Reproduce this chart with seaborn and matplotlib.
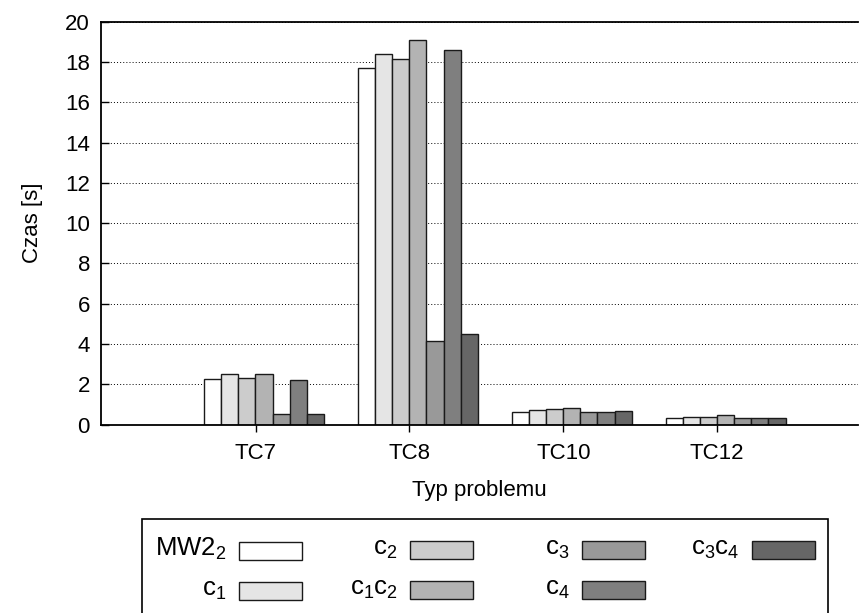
import matplotlib
matplotlib.use("Agg")
import matplotlib.pyplot as plt
import seaborn as sns
import pandas as pd
from matplotlib.patches import Rectangle
from matplotlib.legend_handler import HandlerPatch

# ---- data ----
problems = ["TC7", "TC8", "TC10", "TC12"]
series = ["MW2$_2$", "c$_1$", "c$_2$", "c$_1$c$_2$", "c$_3$", "c$_4$", "c$_3$c$_4$"]
mw2_2 = [2.24, 17.70, 0.63, 0.30]
c1 = [2.50, 18.40, 0.73, 0.38]
c2 = [2.32, 18.13, 0.75, 0.38]
c1c2 = [2.49, 19.11, 0.81, 0.46]
c3 = [0.50, 4.13, 0.63, 0.30]
c4 = [2.20, 18.59, 0.63, 0.33]
c3c4 = [0.53, 4.50, 0.66, 0.33]
yticks = list(range(0, 21, 2))
colors = ["#ffffff", "#e5e5e5", "#cccccc", "#b3b3b3", "#999999", "#7f7f7f", "#666666"]

series_values = [mw2_2, c1, c2, c1c2, c3, c4, c3c4]
rows = []
for s, vals in zip(series, series_values):
    for p, v in zip(problems, vals):
        rows.append({"Problem": p, "Series": s, "Czas": v})
df = pd.DataFrame(rows)

# ---- style ----
sns.set_style("white")
plt.rcParams["font.family"] = ["Liberation Sans", "DejaVu Sans"]
plt.rcParams["mathtext.fontset"] = "custom"
plt.rcParams["mathtext.rm"] = "Liberation Sans"
plt.rcParams["mathtext.it"] = "Liberation Sans"
plt.rcParams["mathtext.bf"] = "Liberation Sans:bold"
plt.rcParams["text.color"] = "black"
plt.rcParams["axes.labelcolor"] = "black"

fig = plt.figure(figsize=(8.59, 6.13), dpi=100)
ax = fig.add_axes([0.11758, 0.3075, 0.88126, 0.6571])

sns.barplot(data=df, x="Problem", y="Czas", hue="Series", order=problems,
            hue_order=series, palette=colors, width=0.78, saturation=1,
            edgecolor="#1a1a1a", linewidth=1.0, errorbar=None, legend=False, ax=ax)

ax.set_xlim(-1.0595, 3.861)
ax.set_ylim(0, 20)
ax.set_yticks(yticks)
ax.set_xticks([i - 0.0546 for i in range(len(problems))], problems)

ax.grid(axis="y", linestyle=(0, (1, 2.2)), color="black", linewidth=0.7)
ax.grid(axis="x", visible=False)
ax.set_axisbelow(True)

ax.tick_params(axis="y", direction="in", length=6, width=1, pad=8,
               labelsize=16, left=True, colors="black")
ax.tick_params(axis="x", direction="out", length=5, width=1, pad=8,
               labelsize=16, bottom=True, colors="black")
for side in ["left", "top", "bottom"]:
    ax.spines[side].set_color("black")
    ax.spines[side].set_linewidth(1.3)
ax.spines["right"].set_visible(False)

ax.set_ylabel("Czas [s]", fontsize=16, labelpad=16, color="black")
ax.set_xlabel("Typ problemu", fontsize=16, labelpad=12, color="black")

# ---- legend (one column per legend, gnuplot-like fixed column pitch) ----
def swatch(legend, orig_handle, xdescent, ydescent, width, height, fontsize):
    return Rectangle((-xdescent, -ydescent - 3.2), width, height)

handles = [cont.patches[0] for cont in ax.containers]
fs = 18.5
fspx = fs * 100 / 72
columns = [[0, 1], [2, 3], [4, 5], [6]]
col_right_px = [302, 473, 645, 815]
top_y = 1 - 535.5 / 613
for idx, xr in zip(columns, col_right_px):
    leg = fig.legend([handles[i] for i in idx], [series[i] for i in idx],
                     loc="upper right", bbox_to_anchor=(xr / 859, top_y),
                     ncols=1, frameon=False, markerfirst=False,
                     fontsize=fs, labelcolor="black",
                     handlelength=63 / fspx, handleheight=18 / fspx,
                     handletextpad=0.48, labelspacing=0.58, borderpad=0,
                     borderaxespad=0,
                     handler_map={Rectangle: HandlerPatch(patch_func=swatch)})

frame = Rectangle((142 / 859, 1 - 615 / 613), (828 - 142) / 859, (615 - 519) / 613,
                  transform=fig.transFigure, fill=False, edgecolor="black",
                  linewidth=1.2)
fig.add_artist(frame)

fig.savefig("out.png", dpi=100)
